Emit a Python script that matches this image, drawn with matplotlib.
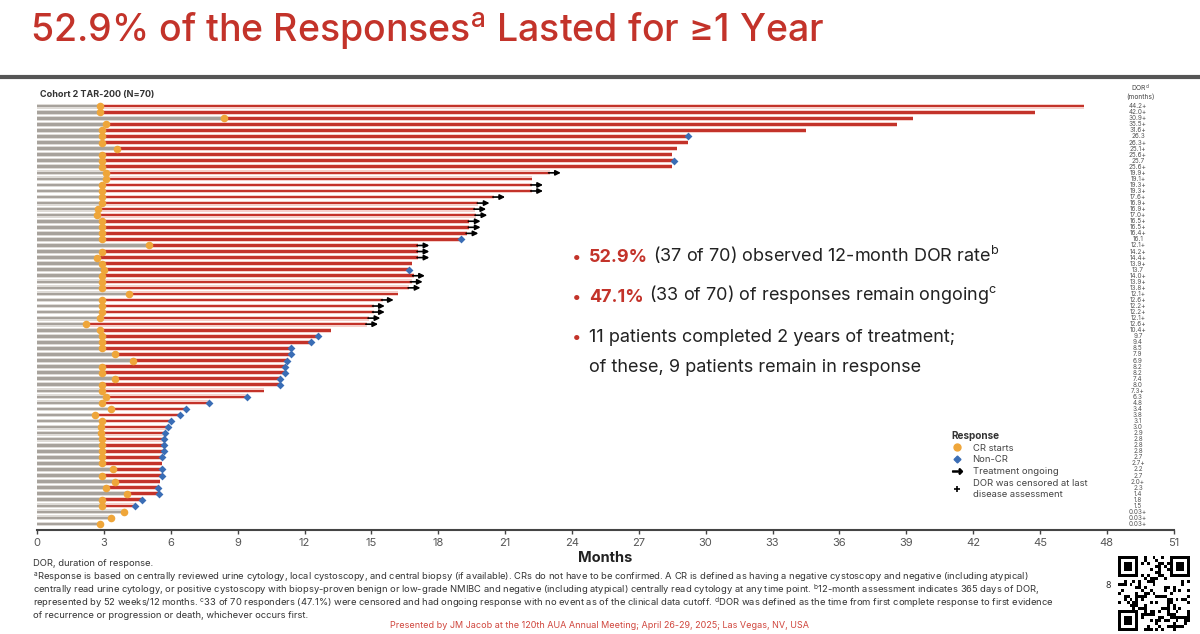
import numpy as np
import matplotlib
matplotlib.use("Agg")
import matplotlib.pyplot as plt
from matplotlib.lines import Line2D

plt.rcParams['font.family'] = ['Inter', 'DejaVu Sans']

# one entry per responder, top row first
cr_start = [2.8, 2.8, 8.4, 3.1, 2.9, 2.9, 2.9, 3.6, 2.9, 2.9,
            2.9, 3.1, 3.1, 2.9, 2.9, 2.9, 2.9, 2.75, 2.7, 2.9,
            2.9, 2.9, 2.9, 5.0, 2.9, 2.7, 2.9, 3.0, 2.9, 2.9,
            2.9, 4.1, 2.9, 2.9, 2.9, 2.8, 2.2, 2.8, 2.9, 2.9,
            2.9, 3.5, 4.3, 2.9, 2.9, 3.5, 2.9, 2.9, 3.1, 2.9,
            3.3, 2.6, 2.9, 2.85, 2.85, 2.9, 2.9, 2.9, 2.9, 2.9,
            3.4, 2.9, 3.5, 3.1, 4.05, 2.9, 2.9, 3.9, 3.3, 2.8]
dor = [44.2, 42.0, 30.9, 35.5, 31.6, 26.3, 26.3, 25.1, 25.6, 25.7,
       25.6, 19.9, 19.1, 19.3, 19.3, 17.6, 16.9, 16.9, 17.0, 16.5,
       16.5, 16.4, 16.1, 12.1, 14.2, 14.4, 13.9, 13.7, 14.0, 13.9,
       13.8, 12.1, 12.6, 12.2, 12.2, 12.1, 12.6, 10.4, 9.7, 9.4,
       8.5, 7.9, 6.9, 8.2, 8.2, 7.4, 8.0, 7.3, 6.3, 4.8,
       3.4, 3.8, 3.1, 3.0, 2.9, 2.8, 2.8, 2.8, 2.7, 2.7,
       2.2, 2.7, 2.0, 2.3, 1.4, 1.8, 1.5, 0.03, 0.03, 0.03]
# O = treatment ongoing, E = non-CR event, C = censored
status = list("CCCCCECCCE"
              "COCOOOOOOO"
              "OOEOOOCEOO"
              "OCOOOOOCEE"
              "EEEEEEECEE"
              "EEEEEEEEEC"
              "EECEEEECCC")
x_ticks = list(range(0, 52, 3))

red = '#c3332a'
pink = '#f6cfca'
grey = '#a7a29c'
lgrey = '#dedbd7'
orange = '#efa63a'
blue = '#3a6db5'

cr = np.array(cr_start)
d = np.array(dor)
end = cr + d
y = np.arange(1, len(cr) + 1)
st = np.array(status)

fig = plt.figure(figsize=(12, 6.34), dpi=100)
ax = fig.add_axes([0.031, 0.164, 0.947, 0.678])

ax.barh(y, cr, height=0.8, color=lgrey, zorder=1)
ax.barh(y, cr, height=0.42, color=grey, zorder=2)
ax.barh(y, d, left=cr, height=0.8, color=pink, zorder=1)
ax.barh(y, d, left=cr, height=0.42, color=red, zorder=2)

ev = st == 'E'
ax.scatter(end[ev], y[ev], marker='D', s=16, color=blue, zorder=5, linewidths=0)
ax.scatter(cr, y, s=30, color=orange, zorder=6, linewidths=0)
for e, yy in zip(end[st == 'O'], y[st == 'O']):
    ax.annotate('', xy=(e + 0.5, yy), xytext=(e - 0.05, yy),
                arrowprops=dict(arrowstyle='-|>,head_length=0.3,head_width=0.15',
                                color='black', lw=1.2, shrinkA=0, shrinkB=0),
                zorder=7)

# DOR column
for yy, v, s in zip(y, d, st):
    lab = f"{v:.2f}" if v < 0.1 else f"{v:.1f}"
    if s != 'E':
        lab += '+'
    ax.text(49.4, yy, lab, ha='center', va='center', fontsize=4.6, color='#555555')
fig.text(1140 / 1200, 1 - 88 / 634, 'DOR$^{\\mathregular{d}}$', ha='center', va='center',
         fontsize=4.8, color='#444444')
fig.text(1140 / 1200, 1 - 97 / 634, '(months)', ha='center', va='center',
         fontsize=4.8, color='#444444')

ax.set_xlim(0, 51)
ax.set_ylim(71, 0)
ax.set_xticks(x_ticks)
ax.set_xticklabels([str(t) for t in x_ticks], fontsize=8, color='#555555')
ax.tick_params(axis='x', length=3, width=1, color='#444444', pad=3)
ax.set_yticks([])
for sp in ['top', 'right', 'left']:
    ax.spines[sp].set_visible(False)
ax.spines['bottom'].set_color('#444444')
ax.spines['bottom'].set_linewidth(1.5)
ax.set_xlabel('Months', fontsize=10.5, fontweight='bold', color='#222222', labelpad=2)

fig.text(40 / 1200, 1 - 95 / 634, 'Cohort 2 TAR-200 (N=70)', fontsize=6.5,
         fontweight='bold', color='#333333', va='center')

# title
fig.text(30 / 1200, 1 - 32 / 634, '52.9% of the Responses$^{\\mathregular{a}}$ Lasted for \u22651 Year',
         fontsize=27, color=red, fontweight='medium', va='center')
fig.add_artist(Line2D([0, 1], [1 - 77 / 634] * 2, color='#555555', lw=3))

# bullet points
bullets = [('52.9%', ' (37 of 70) observed 12-month DOR rate$^{\\mathregular{b}}$', 262),
           ('47.1%', ' (33 of 70) of responses remain ongoing$^{\\mathregular{c}}$', 302)]
for bold, rest, yp in bullets:
    fig.text(572 / 1200, 1 - yp / 634, '\u2022', color=red, fontsize=12, va='baseline')
    t = fig.text(589 / 1200, 1 - yp / 634, bold, color=red,
                 fontsize=13, fontweight='bold', va='baseline')
    ax.annotate(rest, xy=(1, 0), xycoords=t, va='bottom', ha='left',
                color='#222222', fontsize=13, annotation_clip=False)
fig.text(572 / 1200, 1 - 342 / 634, '\u2022', color=red, fontsize=12, va='baseline')
fig.text(589 / 1200, 1 - 342 / 634, '11 patients completed 2 years of treatment;',
         color='#222222', fontsize=13, va='baseline')
fig.text(589 / 1200, 1 - 372 / 634, 'of these, 9 patients remain in response',
         color='#222222', fontsize=13, va='baseline')

# legend
handles = [Line2D([], [], marker='o', ls='', color=orange, markersize=5),
           Line2D([], [], marker='D', ls='', color=blue, markersize=3.5),
           Line2D([], [], marker='$\\rightarrow$', ls='', color='black', markersize=7),
           Line2D([], [], marker='+', ls='', color='black', markersize=5, mew=1.2)]
labels = ['CR starts', 'Non-CR', 'Treatment ongoing',
          'DOR was censored at last\ndisease assessment']
leg = ax.legend(handles, labels, title='Response', loc='upper left',
                bbox_to_anchor=(948 / 1200, 1 - 427 / 634), bbox_transform=fig.transFigure,
                frameon=False, fontsize=6.8, title_fontproperties={'weight': 'bold', 'size': 7.2},
                alignment='left', handlelength=1.2, handletextpad=1.0, labelspacing=0.3,
                borderaxespad=0)
for txt in leg.get_texts():
    txt.set_color('#444444')
leg.get_title().set_color('#333333')

# footnotes
notes = ['DOR, duration of response.',
         '$^{\\mathregular{a}}$Response is based on centrally reviewed urine cytology, local cystoscopy, and central biopsy (if available). '
         'CRs do not have to be confirmed. A CR is defined as having a negative cystoscopy and negative (including atypical)',
         'centrally read urine cytology, or positive cystoscopy with biopsy-proven benign or low-grade NMIBC and negative (including atypical) '
         'centrally read cytology at any time point. $^{\\mathregular{b}}$12-month assessment indicates 365 days of DOR,',
         'represented by 52 weeks/12 months. $^{\\mathregular{c}}$33 of 70 responders (47.1%) were censored and had ongoing response with no event '
         'as of the clinical data cutoff. $^{\\mathregular{d}}$DOR was defined as the time from first complete response to first evidence',
         'of recurrence or progression or death, whichever occurs first.']
for i, n in enumerate(notes):
    fig.text(33 / 1200, 1 - (564 + 13 * i) / 634, n, fontsize=6.75, color='#333333', va='center')

fig.text(600 / 1200, 1 - 626 / 634,
         'Presented by JM Jacob at the 120th AUA Annual Meeting; April 26-29, 2025; Las Vegas, NV, USA',
         fontsize=6.5, color='#d0463d', ha='center', va='center')
fig.text(1108 / 1200, 1 - 586 / 634, '8', fontsize=6.5, color='#333333', ha='center', va='center')

# QR code decoration
n = 25
qr = np.zeros((n, n))
ii, jj = np.meshgrid(np.arange(n), np.arange(n), indexing='ij')
qr[((ii * 7 + jj * 13) ^ (ii * jj)) % 3 == 0] = 1
for r0, c0 in [(0, 0), (0, n - 7), (n - 7, 0)]:
    qr[r0:r0 + 8 if r0 == 0 else n, c0:c0 + 8 if c0 == 0 else n] = 0
    qr[r0:r0 + 7, c0:c0 + 7] = 1
    qr[r0 + 1:r0 + 6, c0 + 1:c0 + 6] = 0
    qr[r0 + 2:r0 + 5, c0 + 2:c0 + 5] = 1
qax = fig.add_axes([1118 / 1200, 1 - 631 / 634, 72 / 1200, 75 / 634])
qax.imshow(qr, cmap='Greys', interpolation='nearest', aspect='auto')
qax.axis('off')

fig.savefig('out.png', dpi=100)
